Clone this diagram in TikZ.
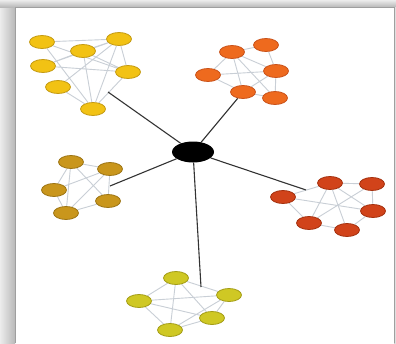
\documentclass[tikz,border=0pt]{standalone}
\usetikzlibrary{shapes.geometric}
\pgfdeclarelayer{bg}
\pgfdeclarelayer{frame}
\pgfsetlayers{frame,bg,main}
\definecolor{cyel}{HTML}{F2C214}
\definecolor{cyelb}{HTML}{C49A12}
\definecolor{corg}{HTML}{EE6A1E}
\definecolor{corgb}{HTML}{C9521A}
\definecolor{cgld}{HTML}{C9961C}
\definecolor{cgldb}{HTML}{9C7414}
\definecolor{cred}{HTML}{D1431A}
\definecolor{credb}{HTML}{A3300E}
\definecolor{cgrn}{HTML}{CFC824}
\definecolor{cgrnb}{HTML}{A39C16}
\definecolor{cedge}{HTML}{C9CFD6}
\tikzset{
  vert/.style={ellipse, minimum width=25pt, minimum height=13pt, inner sep=0pt, line width=0.8pt},
  yel/.style={vert, fill=cyel, draw=cyelb},
  org/.style={vert, fill=corg, draw=corgb},
  gld/.style={vert, fill=cgld, draw=cgldb},
  red/.style={vert, fill=cred, draw=credb},
  grn/.style={vert, fill=cgrn, draw=cgrnb},
  ed/.style={draw=cedge, line width=0.9pt},
  spoke/.style={draw=black!80, line width=1.1pt},
}
\begin{document}
\begin{tikzpicture}[x=1pt,y=-1pt]
\useasboundingbox (0,0) rectangle (396,343);
\begin{pgfonlayer}{frame}
\fill[white] (0,0) rectangle (396,343);
\shade[left color=gray!15, right color=gray!55] (0,0) rectangle (15,343);
\shade[top color=gray!15, bottom color=gray!55] (0,0) rectangle (396,7);
\shade[left color=gray!40, right color=gray!10] (394,7) rectangle (396,343);
\fill[white] (15,7) rectangle (394,343);
\draw[gray!75, line width=0.8pt] (15,343) -- (15,7) -- (394,7) -- (394,343);
\end{pgfonlayer}

% hub
\node[ellipse, fill=black, minimum width=42pt, minimum height=21pt, inner sep=0pt] (hub) at (193,152) {};

% yellow cluster
\node[yel] (a1) at (42,42) {};
\node[yel] (a2) at (83,51) {};
\node[yel] (a3) at (119,39) {};
\node[yel] (a4) at (43,66) {};
\node[yel] (a5) at (128,72) {};
\node[yel] (a6) at (58,87) {};
\node[yel] (a7) at (93,109) {};
\coordinate (ya) at (108,92);

% orange cluster
\node[org] (b1) at (232,52) {};
\node[org] (b2) at (266,45) {};
\node[org] (b3) at (208,75) {};
\node[org] (b4) at (276,71) {};
\node[org] (b5) at (243,92) {};
\node[org] (b6) at (275,98) {};

% gold cluster
\node[gld] (c1) at (71,162) {};
\node[gld] (c2) at (110,169) {};
\node[gld] (c3) at (54,190) {};
\node[gld] (c4) at (108,201) {};
\node[gld] (c5) at (66,213) {};
\coordinate (gc) at (110,186);

% red cluster
\node[red] (d1) at (330,183) {};
\node[red] (d2) at (372,184) {};
\node[red] (d3) at (283,197) {};
\node[red] (d4) at (373,211) {};
\node[red] (d5) at (309,223) {};
\node[red] (d6) at (347,230) {};
\coordinate (rc) at (306,190);

% yellow-green cluster
\node[grn] (e1) at (176,278) {};
\node[grn] (e2) at (229,295) {};
\node[grn] (e3) at (139,301) {};
\node[grn] (e4) at (212,318) {};
\node[grn] (e5) at (170,330) {};
\coordinate (lc) at (201,287);

\begin{pgfonlayer}{bg}
\path[ed] (a1)--(a3) (a1)--(a7) (a1)--(a5) (a2)--(a3) (a2)--(a4) (a2)--(a7)
  (a3)--(a4) (a3)--(a5) (a3)--(a6) (a3)--(a7) (a4)--(a5) (a5)--(a7) (a6)--(a7) (a2)--(a5);
\path[ed] (b1)--(b3) (b1)--(b5) (b1)--(b6) (b1)--(b4) (b2)--(b4) (b2)--(b1)
  (b3)--(b4) (b3)--(b5) (b4)--(b5) (b4)--(b6) (b5)--(b6);
\path[ed] (c1)--(c2) (c1)--(c5) (c1)--(c4) (c1)--(c3) (c2)--(c3) (c2)--(c5)
  (c3)--(c5) (c4)--(c5) (c2)--(c4);
\path[ed] (d1)--(d3) (d1)--(d2) (d1)--(d5) (d1)--(d6) (d1)--(d4) (d3)--(d4)
  (d2)--(d4) (d3)--(d5) (d5)--(d6) (d5)--(d2) (d4)--(d6);
\path[ed] (e1)--(e3) (e1)--(e2) (e1)--(e4) (e1)--(e5) (e3)--(e2) (e3)--(e5)
  (e3)--(e4) (e2)--(e4) (e2)--(e5) (e4)--(e5);
\path[spoke] (hub)--(ya) (hub)--(b5) (hub)--(gc) (hub)--(rc) (hub)--(lc);
\end{pgfonlayer}
\end{tikzpicture}
\end{document}
